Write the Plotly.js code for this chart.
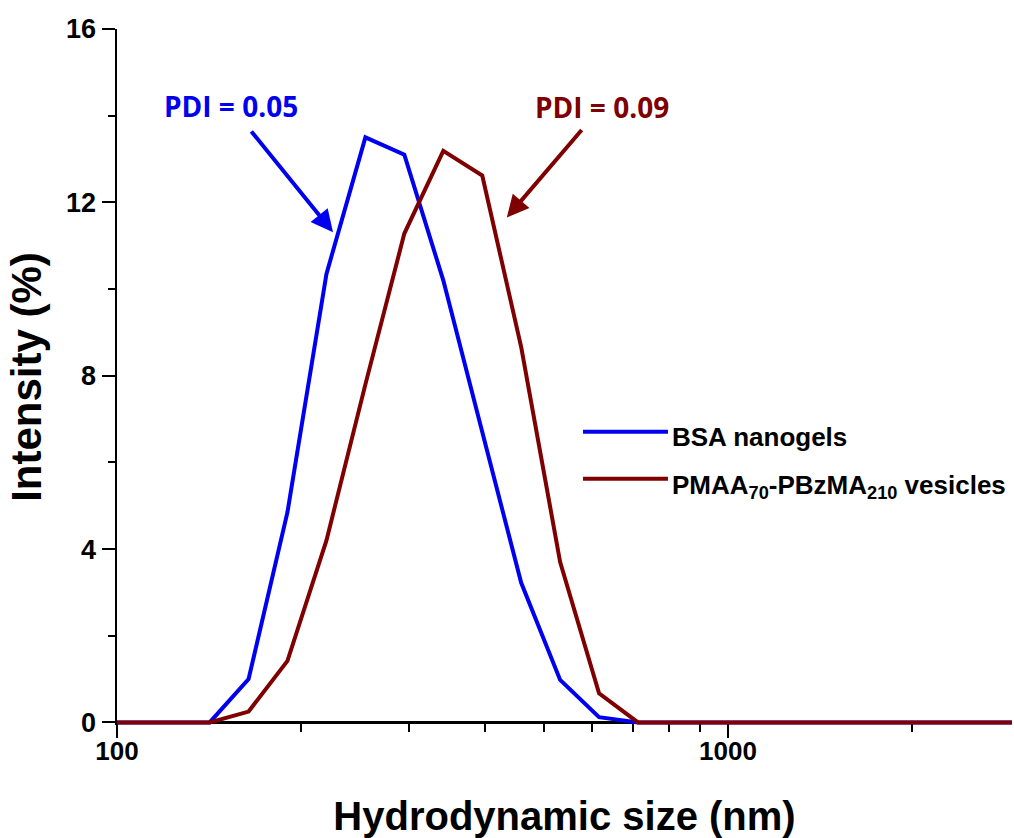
<!DOCTYPE html>
<html>
<head>
<meta charset="utf-8">
<script src="https://cdn.plot.ly/plotly-3.0.1.min.js"></script>
<style>html,body{margin:0;padding:0;background:#fff;}#chart{width:1014px;height:838px;}</style>
</head>
<body>
<div id="chart"></div>
<script>
// Hydrodynamic size bins (nm)
const sizes = [91.28, 105.7, 122.4, 141.8, 164.2, 190.1, 220.2, 255.0, 295.3, 342.0, 396.1, 458.7, 531.2, 615.1, 712.4, 825.0, 955.4, 1106, 1281, 1484, 1718, 1990, 2305, 2669, 3091, 3580];
// Intensity (%)
const bsaNanogels = [0, 0, 0, 0, 1.0, 4.85, 10.35, 13.5, 13.1, 10.2, 6.7, 3.22, 0.98, 0.12, 0, 0, 0, 0, 0, 0, 0, 0, 0, 0, 0, 0];
const vesicles    = [0, 0, 0, 0, 0.25, 1.42, 4.2, 7.8, 11.28, 13.19, 12.62, 8.66, 3.7, 0.67, 0, 0, 0, 0, 0, 0, 0, 0, 0, 0, 0, 0];
const seriesNames = ['BSA nanogels', 'PMAA<sub>70</sub>-PBzMA<sub>210</sub> vesicles'];
const seriesColors = ['#0000f0', '#7f0000'];
const pdiLabels = ['PDI = 0.05', 'PDI = 0.09'];
const yTicks = [0, 4, 8, 12, 16];
const xTicks = [100, 1000];
const xMinor = [200, 300, 400, 500, 600, 700, 800, 900, 2000, 3000];

const F = 'Liberation Sans, Arial, sans-serif';
const yMin = -0.06, yMax = 16;
const pos0 = (0 - yMin) / (yMax - yMin);

const traces = [
  {x: sizes, y: bsaNanogels, type: 'scatter', mode: 'lines', name: seriesNames[0],
   line: {color: seriesColors[0], width: 4}, showlegend: false},
  {x: sizes, y: vesicles, type: 'scatter', mode: 'lines', name: seriesNames[1],
   line: {color: seriesColors[1], width: 4}, showlegend: false}
];

const layout = {
  width: 1014, height: 838,
  margin: {l: 117, r: 2, t: 29, b: 113},
  paper_bgcolor: '#fff', plot_bgcolor: '#fff',
  showlegend: false,
  xaxis: {
    type: 'log', range: [2, 3.4648],
    anchor: 'free', position: pos0,
    showline: true, linecolor: '#000', linewidth: 2.5,
    layer: 'below traces',
    showgrid: false, zeroline: false,
    tickmode: 'array', tickvals: xTicks, ticktext: xTicks.map(String),
    ticks: 'outside', ticklen: 14, tickwidth: 2, tickcolor: '#000',
    ticklabelstandoff: -9,
    minor: {tickmode: 'array', tickvals: xMinor, ticks: 'outside', ticklen: 8, tickwidth: 2, tickcolor: '#000', showgrid: false},
    tickfont: {family: F, size: 26, color: '#000', weight: 'bold'},
    title: {text: 'Hydrodynamic size (nm)', font: {family: F, size: 40, color: '#000', weight: 'bold'}, standoff: 36}
  },
  yaxis: {
    range: [yMin, yMax],
    showline: true, linecolor: '#000', linewidth: 2.5,
    showgrid: false, zeroline: false,
    tickmode: 'array', tickvals: yTicks,
    ticks: 'outside', ticklen: 13, tickwidth: 2, tickcolor: '#000',
    minor: {dtick: 2, tick0: 0, ticks: 'outside', ticklen: 7, tickwidth: 2, tickcolor: '#000', showgrid: false},
    tickfont: {family: F, size: 27, color: '#000', weight: 'bold'},
    title: {text: 'Intensity (%)', font: {family: F, size: 42, color: '#000', weight: 'bold'}, standoff: 12}
  },
  shapes: [
    {type: 'line', xref: 'paper', yref: 'paper', x0: 0.5207, x1: 0.6156, y0: 0.4214, y1: 0.4214,
     line: {color: seriesColors[0], width: 4}},
    {type: 'line', xref: 'paper', yref: 'paper', x0: 0.5207, x1: 0.6156, y0: 0.3539, y1: 0.3539,
     line: {color: seriesColors[1], width: 4}}
  ],
  annotations: [
    {xref: 'paper', yref: 'paper', x: 0.618, y: 0.4142, xanchor: 'left', yanchor: 'middle', showarrow: false,
     text: seriesNames[0], font: {family: F, size: 26, color: '#000', weight: 'bold'}},
    {xref: 'paper', yref: 'paper', x: 0.618, y: 0.3430, xanchor: 'left', yanchor: 'middle', showarrow: false,
     text: seriesNames[1], font: {family: F, size: 26, color: '#000', weight: 'bold'}},
    {xref: 'x', yref: 'y', x: 2.3535, y: 11.31, text: pdiLabels[0], showarrow: true, ax: -102, ay: -126,
     startstandoff: 6, arrowhead: 2, arrowsize: 1.1, arrowwidth: 4, arrowcolor: seriesColors[0],
     font: {family: 'Open Sans, sans-serif', size: 28, color: seriesColors[0], weight: 'bold'}},
    {xref: 'x', yref: 'y', x: 2.638, y: 11.65, text: pdiLabels[1], showarrow: true, ax: 95, ay: -111,
     startstandoff: 4, arrowhead: 2, arrowsize: 1.1, arrowwidth: 4, arrowcolor: seriesColors[1],
     font: {family: 'Open Sans, sans-serif', size: 28, color: seriesColors[1], weight: 'bold'}}
  ]
};

Plotly.newPlot('chart', traces, layout, {staticPlot: true, displayModeBar: false});
</script>
</body>
</html>
